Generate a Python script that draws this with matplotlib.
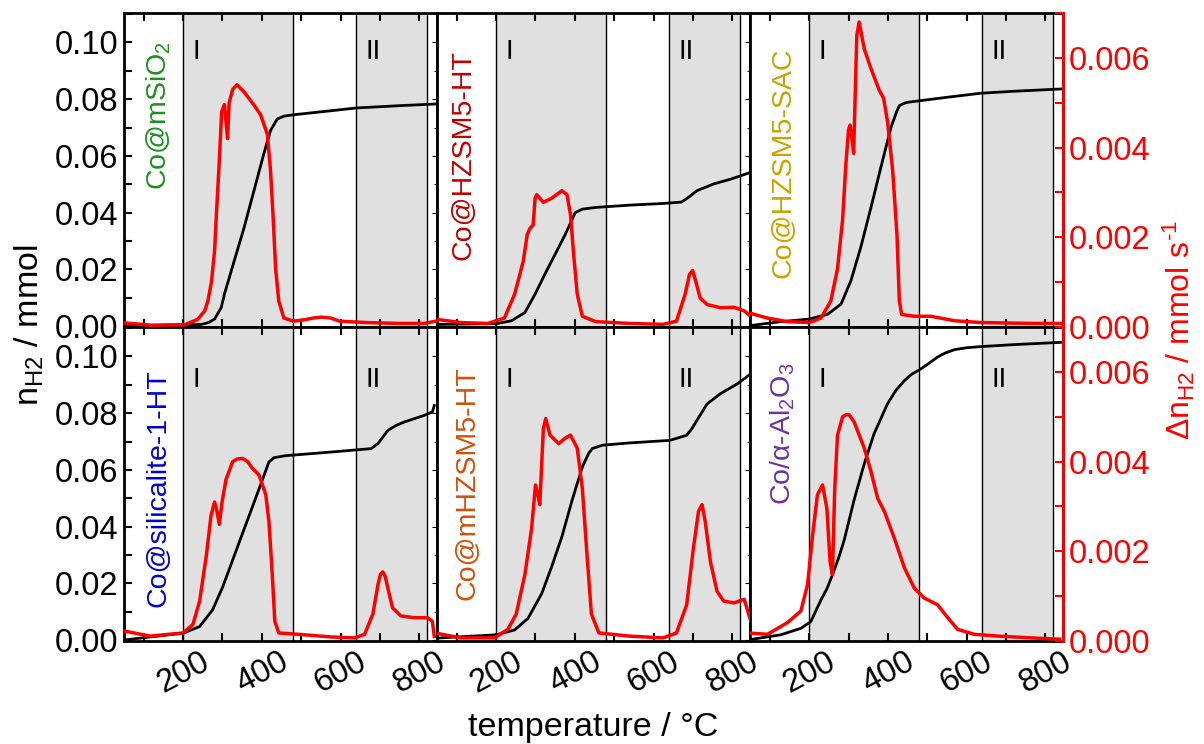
import matplotlib
matplotlib.use('Agg')
import matplotlib.pyplot as plt
import matplotlib.transforms as mtransforms
from matplotlib.ticker import MultipleLocator, FormatStrFormatter

plt.rcParams['font.family'] = ['Liberation Sans', 'DejaVu Sans']
plt.rcParams['mathtext.fontset'] = 'custom'
plt.rcParams['mathtext.rm'] = 'Liberation Sans'
plt.rcParams['mathtext.it'] = 'Liberation Sans:italic'
plt.rcParams['mathtext.default'] = 'regular'

# ---------------- data ----------------
names = ['Co@mSiO$_2$', 'Co@HZSM5-HT', 'Co@HZSM5-SAC',
         'Co@silicalite-1-HT', 'Co@mHZSM5-HT', 'Co/α-Al$_2$O$_3$']
name_colors = ['#1f8f1f', '#c00000', '#c8a400', '#0000cc', '#d2500a', '#7030a0']
name_x = [138, 117, 136, 137, 127, 132]
name_ybottom = [0.436, 0.213, 0.156, 0.108, 0.13, 0.433]

regions = [(200, 480), (640, 820)]
region_labels = ['I', 'II']

# panel 1
t_red_1 = [53, 120, 204, 237, 255, 263, 272, 280, 284, 292, 298, 305, 309, 313, 317, 326, 337, 355, 380, 397,
           414, 422, 429, 435, 443, 456, 481, 514, 530, 552, 575, 598, 665, 749, 812, 841]
red_1 = [0.00009, 0.00004, 0.00005, 0.00017, 0.00036, 0.00058, 0.0010, 0.0017, 0.0024, 0.0037, 0.0048, 0.00496,
         0.00458, 0.0042, 0.0050, 0.0053, 0.0054, 0.00524, 0.00495, 0.00473, 0.0043, 0.0035, 0.0024, 0.0013,
         0.00058, 0.0002, 0.00013, 0.00017, 0.0002, 0.00022, 0.0002, 0.00013, 0.0001, 0.00008, 0.00008, 0.00013]
t_blk_1 = [55, 204, 246, 265, 280, 297, 305, 330, 355, 380, 405, 422, 439, 456, 481, 581, 640, 749, 841]
blk_1 = [0.0, 0.0004, 0.0005, 0.0012, 0.0024, 0.0065, 0.0112, 0.023, 0.0347, 0.0477, 0.0607, 0.0689, 0.073,
         0.074, 0.0745, 0.076, 0.0769, 0.0777, 0.0783]

# panel 2
t_red_2 = [50, 110, 179, 221, 247, 269, 279, 286, 294, 299, 303, 320, 341, 367, 380, 389, 397, 406, 419, 453,
           538, 624, 658, 680, 691, 699, 707, 718, 736, 770, 804, 830, 847]
red_2 = [0.00017, 0.0001, 0.00008, 0.0002, 0.00073, 0.00147, 0.00206, 0.0022, 0.00227, 0.00287, 0.00295,
         0.00278, 0.00287, 0.00304, 0.00295, 0.0025, 0.00161, 0.00073, 0.00024, 0.00012, 0.00008, 0.00006,
         0.00013, 0.00073, 0.00117, 0.00126, 0.00102, 0.00065, 0.0005, 0.00043, 0.00044, 0.00036, 0.00024]
t_blk_2 = [45, 200, 239, 273, 299, 324, 350, 376, 401, 419, 453, 538, 624, 671, 688, 710, 753, 796, 847]
blk_2 = [0.0005, 0.0008, 0.0018, 0.0047, 0.0112, 0.0183, 0.0253, 0.0324, 0.040, 0.0412, 0.0418, 0.0426,
         0.0432, 0.0437, 0.0453, 0.0477, 0.0501, 0.0518, 0.0542]

# panel 3
t_red_3 = [45, 94, 145, 200, 230, 255, 272, 285, 293, 300, 304, 310, 313, 317, 321, 327, 340, 357, 378, 389,
           399, 412, 423, 429, 435, 467, 509, 569, 636, 764, 838]
red_3 = [0.00032, 0.0002, 0.00012, 0.0001, 0.0002, 0.00058, 0.0013, 0.0024, 0.0036, 0.0044, 0.0045, 0.0041,
         0.00387, 0.0052, 0.0065, 0.0068, 0.0062, 0.00576, 0.00528, 0.0051, 0.00458, 0.0035, 0.00206, 0.00058,
         0.00028, 0.00024, 0.00024, 0.00014, 0.0001, 0.00008, 0.00008]
t_blk_3 = [45, 128, 200, 247, 281, 306, 331, 357, 382, 408, 422, 429, 440, 450, 484, 552, 636, 721, 840]
blk_3 = [0.0, 0.0015, 0.0024, 0.0041, 0.0077, 0.0159, 0.0277, 0.0418, 0.0559, 0.0701, 0.0755, 0.0777, 0.0785,
         0.0789, 0.0795, 0.0807, 0.0821, 0.0828, 0.0836]

# panel 4
t_red_4 = [53, 116, 200, 225, 242, 259, 271, 280, 286, 292, 299, 309, 326, 338, 351, 364, 376, 393, 410, 418,
           426, 433, 443, 493, 577, 636, 661, 682, 695, 701, 707, 713, 720, 732, 753, 787, 821, 833, 838]
red_4 = [0.00022, 0.00011, 0.00018, 0.00037, 0.00089, 0.0019, 0.0028, 0.0031, 0.0029, 0.0026, 0.0031, 0.0036,
         0.004, 0.00406, 0.00407, 0.004, 0.00385, 0.0037, 0.00326, 0.00267, 0.00156, 0.00044, 0.00018, 0.00015,
         0.00009, 0.00007, 0.00015, 0.0006, 0.00126, 0.00148, 0.00154, 0.00145, 0.00118, 0.00074, 0.00056,
         0.00052, 0.00052, 0.00044, 0.0001]
t_blk_4 = [53, 200, 242, 275, 301, 326, 351, 376, 401, 418, 431, 460, 577, 678, 695, 720, 740, 762, 812, 833, 838]
blk_4 = [0.0, 0.0024, 0.0047, 0.0106, 0.0188, 0.0282, 0.0376, 0.0469, 0.0563, 0.0628, 0.0643, 0.065, 0.0663,
         0.0675, 0.0693, 0.0739, 0.0756, 0.0769, 0.0792, 0.0804, 0.0827]

# panel 5
t_red_5 = [45, 110, 196, 230, 251, 273, 290, 300, 305, 311, 316, 320, 326, 337, 359, 375, 389, 406, 419, 431,
           442, 461, 538, 624, 658, 684, 701, 714, 723, 731, 744, 761, 778, 804, 830, 847]
red_5 = [0.00018, 0.00007, 0.00007, 0.00026, 0.0006, 0.00148, 0.0025, 0.00348, 0.0033, 0.00304, 0.004,
         0.00474, 0.00496, 0.00459, 0.0044, 0.00452, 0.00459, 0.0043, 0.0034, 0.0019, 0.0006, 0.00018, 0.00011,
         0.00007, 0.00018, 0.00081, 0.00207, 0.00289, 0.00304, 0.00267, 0.00178, 0.00111, 0.00089, 0.00085,
         0.00093, 0.00044]
t_blk_5 = [45, 200, 247, 281, 316, 341, 367, 393, 419, 435, 444, 470, 538, 641, 684, 697, 710, 736, 770, 813, 847]
blk_5 = [0.0006, 0.0018, 0.0035, 0.0076, 0.0164, 0.0258, 0.0364, 0.0493, 0.061, 0.0658, 0.0675, 0.0687, 0.0695,
         0.0704, 0.0722, 0.0745, 0.0775, 0.0833, 0.0869, 0.0904, 0.0939]

# panel 6
t_red_6 = [45, 94, 145, 179, 196, 208, 221, 234, 245, 253, 259, 265, 272, 285, 295, 302, 314, 340, 357, 374, 391,
           416, 442, 467, 492, 526, 552, 577, 619, 679, 764, 836]
red_6 = [0.00018, 0.00015, 0.00041, 0.00067, 0.00126, 0.0023, 0.00326, 0.00348, 0.00296, 0.00178, 0.00148,
         0.0034, 0.00459, 0.005, 0.00505, 0.00504, 0.00489, 0.0043, 0.00378, 0.00318, 0.00289, 0.0023, 0.00163,
         0.00118, 0.00096, 0.00081, 0.00052, 0.00026, 0.00015, 0.00011, 0.00007, 0.00004]
t_blk_6 = [45, 128, 179, 204, 230, 245, 259, 275, 289, 314, 340, 365, 399, 420, 442, 460, 480, 500, 526, 545,
           569, 600, 636, 721, 840]
blk_6 = [0.0, 0.0018, 0.0041, 0.0064, 0.0141, 0.018, 0.0229, 0.029, 0.0352, 0.0493, 0.0622, 0.0728, 0.0833,
         0.088, 0.0915, 0.0937, 0.0953, 0.0972, 0.0998, 0.1012, 0.1024, 0.1031, 0.1035, 0.1042, 0.105]

t_red = [t_red_1, t_red_2, t_red_3, t_red_4, t_red_5, t_red_6]
reds = [red_1, red_2, red_3, red_4, red_5, red_6]
t_blk = [t_blk_1, t_blk_2, t_blk_3, t_blk_4, t_blk_5, t_blk_6]
blks = [blk_1, blk_2, blk_3, blk_4, blk_5, blk_6]

x_major = [200, 400, 600, 800]
y_left_ticks = [0.00, 0.02, 0.04, 0.06, 0.08, 0.10]
y_right_ticks = [0.000, 0.002, 0.004, 0.006]

# ---------------- figure ----------------
fig, axes = plt.subplots(2, 3, figsize=(12.04, 7.44), dpi=100)
plt.subplots_adjust(left=0.103, right=0.883, top=0.9825, bottom=0.1384, wspace=0, hspace=0)

TS = 23.5
for i, ax in enumerate(axes.flat):
    row, col = divmod(i, 3)
    ax.set_xlim(50, 845)
    ax.set_ylim(-0.0004, 0.1104)
    for (a, b) in regions:
        ax.axvspan(a, b, color='#e0e0e0', zorder=0, lw=0)
        ax.axvline(a, color='black', lw=1.0, zorder=1)
        ax.axvline(b, color='black', lw=1.0, zorder=1)
    ax.plot(t_blk[i], blks[i], color='black', lw=2.0, zorder=3)
    ax.set_xticks(x_major)
    ax.xaxis.set_minor_locator(MultipleLocator(100))
    ax.tick_params(axis='x', which='both', direction='in', top=True, bottom=True,
                   length=6, width=1.5, labelsize=TS, pad=4)
    if row == 0:
        ax.tick_params(axis='x', labelbottom=False)
    else:
        for lab in ax.get_xticklabels():
            lab.set_rotation(28)
            lab.set_ha('center')
    ax.set_yticks(y_left_ticks)
    ax.yaxis.set_minor_locator(MultipleLocator(0.01))
    ax.yaxis.set_major_formatter(FormatStrFormatter('%.2f'))
    if col == 0:
        ax.tick_params(axis='y', which='both', direction='in', left=True, right=False,
                       length=6, width=1.5, labelsize=TS, pad=4)
    else:
        ax.tick_params(axis='y', which='both', left=False, right=False, labelleft=False)
    for sp in ax.spines.values():
        sp.set_linewidth(2)

    ax2 = ax.twinx()
    ax2.set_ylim(0, 0.007)
    ax2.plot(t_red[i], reds[i], color='#ff0000', lw=2.5, zorder=4)
    for sp in ax2.spines.values():
        sp.set_visible(False)
    if col == 2:
        ax2.spines['right'].set_visible(True)
        ax2.spines['right'].set_color('#ff0000')
        ax2.spines['right'].set_linewidth(2)
        ax2.set_yticks(y_right_ticks)
        ax2.yaxis.set_minor_locator(MultipleLocator(0.001))
        ax2.yaxis.set_major_formatter(FormatStrFormatter('%.3f'))
        ax2.tick_params(axis='y', which='both', direction='in', length=6, width=1.5,
                        colors='#ff0000', labelsize=TS, pad=4)
    else:
        ax2.set_yticks([])

    trans = mtransforms.blended_transform_factory(ax.transData, ax.transAxes)
    ax.text(name_x[i], name_ybottom[i], names[i], transform=trans, rotation=90,
            ha='center', va='bottom', color=name_colors[i], fontsize=20.5, zorder=5)
    ylab = 0.876 if row == 0 else 0.83
    ax.text(233, ylab, region_labels[0], transform=trans, ha='center', va='center', fontsize=20, zorder=5)
    ax.text(683, ylab, region_labels[1], transform=trans, ha='center', va='center', fontsize=20, zorder=5)

fig.text(0.493, 0.022, 'temperature / °C', ha='center', va='center', fontsize=24.5)
fig.text(0.024, 0.563, 'n$_{H2}$ / mmol', ha='center', va='center', rotation=90, fontsize=24.5)
fig.text(0.979, 0.556, 'Δn$_{H2}$ / mmol s$^{\\text{-}1}$', ha='center', va='center', rotation=90,
         fontsize=23, color='#ff0000')

fig.savefig('out.png', dpi=100)
